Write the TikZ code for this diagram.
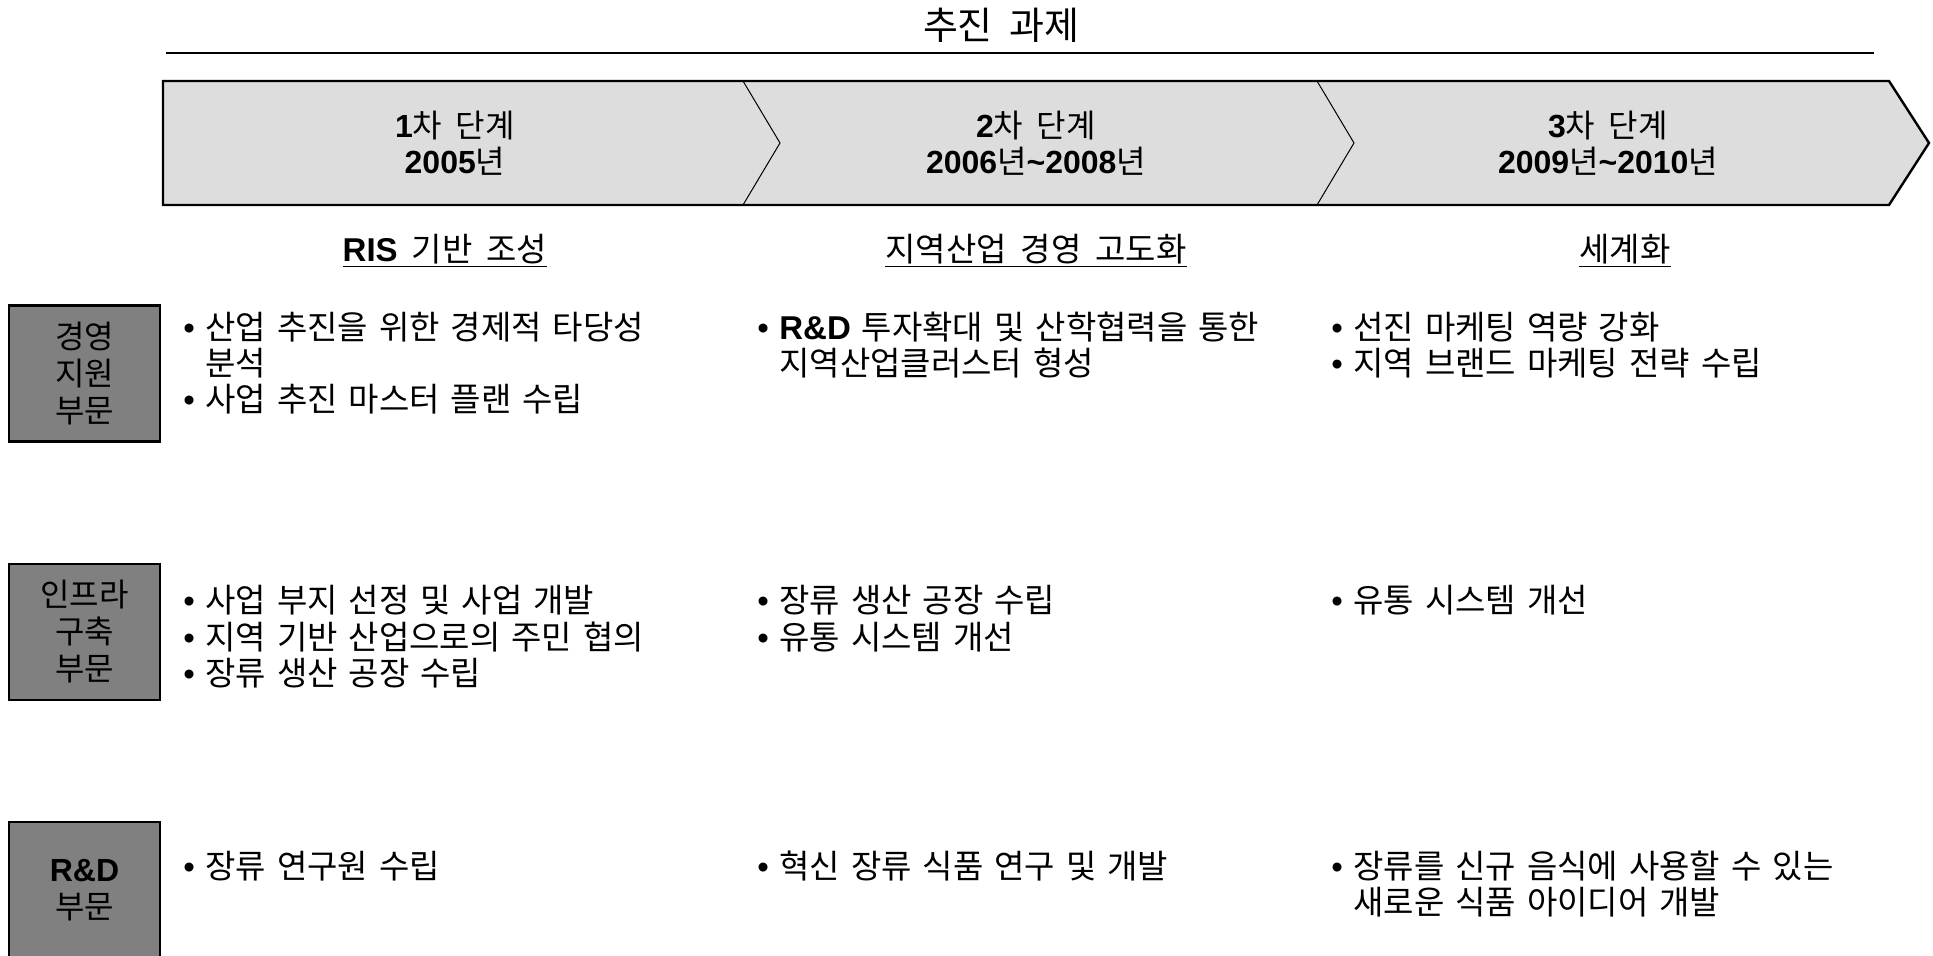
\documentclass[tikz,border=0pt]{standalone}
\usepackage{fontspec}
\setmainfont{Noto Sans CJK KR}[WordSpace=1.9]
\newfontfamily\arialfont{Liberation Sans}
\usepackage{tikz}
\definecolor{chevfill}{RGB}{221,221,221}
\definecolor{partfill}{RGB}{128,128,128}
\newcommand{\latb}[1]{{\arialfont\bfseries #1}}
\newcommand{\itm}[1]{\hangindent=11pt\hangafter=1\noindent\makebox[11pt][l]{\arialfont •}#1\par}

\begin{document}
\begin{tikzpicture}[x=0.5pt, y=-0.5pt, every node/.style={inner sep=0pt},
  phase/.style={font=\fontsize{16}{18}\selectfont, align=center},
  goal/.style={font=\fontsize{16.5}{18}\selectfont},
  part/.style={draw, line width=1.2pt, fill=partfill, minimum width=75.5pt,
    minimum height=68pt, align=center, font=\fontsize{16}{18.5}\selectfont},
  cell/.style={anchor=base west, text width=280pt, align=left,
    font=\fontsize{16.5}{18}\selectfont}]
\useasboundingbox (0,0) rectangle (1933,956);

% title and rule
\node[font=\fontsize{19}{22}\selectfont] (title) at (1001,25) {추진 과제};
\draw[line width=1pt] (166,53) coordinate (ruleL) -- (1874,53) coordinate (ruleR);

% phase banner
\filldraw[fill=chevfill, line width=1.2pt] (163,81) -- (1889,81) -- (1929,143)
  -- (1889,205) -- (163,205) -- cycle;
\foreach \x in {743,1317}
  \draw[line width=0.5pt] (\x,81) -- (\x+37,143) -- (\x,205);

\node[phase] (ph1) at (455,143) {\latb{1}차 단계\\\latb{2005}년};
\node[phase] (ph2) at (1036,143) {\latb{2}차 단계\\\latb{2006}년\latb{\textasciitilde2008}년};
\node[phase] (ph3) at (1608,143) {\latb{3}차 단계\\\latb{2009}년\latb{\textasciitilde2010}년};

\node[goal] (goal1) at ([xshift=-5pt, yshift=-54pt]ph1.center) {\underline{\latb{RIS} 기반 조성}};
\node[goal] (goal2) at ([yshift=-54pt]ph2.center) {\underline{지역산업 경영 고도화}};
\node[goal] (goal3) at ([xshift=8.5pt, yshift=-54pt]ph3.center) {\underline{세계화}};

% row labels
\node[part] (mgmt) at (84.5,373.5) {경영\\지원\\부문};
\node[part] (infra) at (84.5,632) {인프라\\구축\\부문};
\node[part] (rnd) at (84.5,890) {\latb{R\&D}\\부문};

% row 1
\node[cell] (m1) at (183,340) {\itm{산업 추진을 위한 경제적 타당성\newline 분석}\itm{사업 추진 마스터 플랜 수립}};
\node[cell] (m2) at (757,340) {\itm{\latb{R\&D} 투자확대 및 산학협력을 통한\newline 지역산업클러스터 형성}};
\node[cell] (m3) at (1331,340) {\itm{선진 마케팅 역량 강화}\itm{지역 브랜드 마케팅 전략 수립}};

% row 2
\node[cell] (i1) at (183,613) {\itm{사업 부지 선정 및 사업 개발}\itm{지역 기반 산업으로의 주민 협의}\itm{장류 생산 공장 수립}};
\node[cell] (i2) at (757,613) {\itm{장류 생산 공장 수립}\itm{유통 시스템 개선}};
\node[cell] (i3) at (1331,613) {\itm{유통 시스템 개선}};

% row 3
\node[cell] (r1) at (183,878) {\itm{장류 연구원 수립}};
\node[cell] (r2) at (757,878) {\itm{혁신 장류 식품 연구 및 개발}};
\node[cell] (r3) at (1331,878) {\itm{장류를 신규 음식에 사용할 수 있는\newline 새로운 식품 아이디어 개발}};
\end{tikzpicture}
\end{document}
